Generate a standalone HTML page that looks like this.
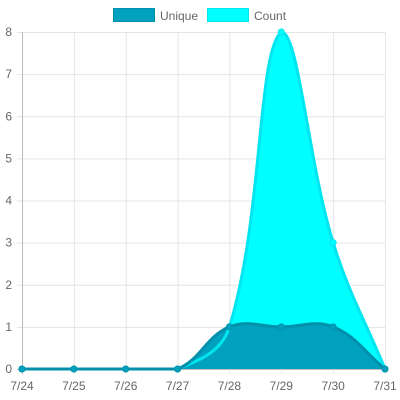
<!DOCTYPE html>
<html><head><meta charset="utf-8"><style>
body{margin:0;background:#fff;}
svg{display:block;font-family:"Liberation Sans",sans-serif;}
</style></head><body>
<svg id="c" width="400" height="400">
<g>
<rect x="113.5" y="8.5" width="41" height="13" fill="#00a0bf" stroke="#0090ab" stroke-width="1"/>
<text x="160" y="20" font-size="12" fill="#666">Unique</text>
<rect x="207.5" y="8.5" width="41" height="13" fill="#00ffff" stroke="#00e5f0" stroke-width="1"/>
<text x="254" y="20" font-size="12" fill="#666">Count</text>
</g>
<g id="grid"></g><g id="marks"></g><g id="labels"></g>
</svg>
<script>
const categories=["7/24","7/25","7/26","7/27","7/28","7/29","7/30","7/31"];
const countValues=[0,0,0,0,1,8,3,0];
const uniqueValues=[0,0,0,0,1,1,1,0];
const yTicks=[0,1,2,3,4,5,6,7,8];
const NS="http://www.w3.org/2000/svg";
const L=22,R=385,T=32,B=369,yMax=8;
const xs=i=>L+(R-L)*i/(categories.length-1);
const ys=v=>B-(B-T)*v/yMax;
function mk(tag,attrs,parent){const e=document.createElementNS(NS,tag);for(const k in attrs)e.setAttribute(k,attrs[k]);parent.appendChild(e);return e;}
const grid=document.getElementById('grid'),marks=document.getElementById('marks'),labels=document.getElementById('labels');
yTicks.forEach(t=>{
  const l=mk('line',{x1:L-5,x2:R,y1:ys(t)+0.5,y2:ys(t)+0.5,stroke:t===0?'#bbb':'#e5e5e5'},grid);
  
  
  const tx=mk('text',{x:12,y:ys(t)+4,'font-size':12,fill:'#666','text-anchor':'end'},labels);
  tx.textContent=t;
  
  
});
categories.forEach((c,i)=>{
  const l=mk('line',{x1:xs(i)+0.5,x2:xs(i)+0.5,y1:T,y2:B+5,stroke:i===0?'#bbb':'#e5e5e5'},grid);
  
  
  const tx=mk('text',{x:xs(i),y:390,'font-size':12,fill:'#666','text-anchor':'middle'},labels);
  tx.textContent=c;
  
  
});
function pathFor(vals){
  const p=vals.map((v,i)=>({x:xs(i),y:ys(v)}));const t=0.4;const cps=[];
  p.forEach((c,i)=>{const pr=p[i-1]||c,nx=p[i+1]||c;
    const d01=Math.hypot(c.x-pr.x,c.y-pr.y),d12=Math.hypot(nx.x-c.x,nx.y-c.y);
    let fa=d01/(d01+d12)||0,fb=d12/(d01+d12)||0;fa*=t;fb*=t;
    const cl=y=>Math.max(T,Math.min(B,y));
    cps.push({px:c.x-fa*(nx.x-pr.x),py:cl(c.y-fa*(nx.y-pr.y)),nx:c.x+fb*(nx.x-pr.x),ny:cl(c.y+fb*(nx.y-pr.y))});});
  let d=`M${p[0].x},${p[0].y}`;
  for(let i=1;i<p.length;i++)d+=` C${cps[i-1].nx},${cps[i-1].ny} ${cps[i].px},${cps[i].py} ${p[i].x},${p[i].y}`;
  return {d,p};
}
const C=pathFor(countValues),U=pathFor(uniqueValues);
const cf=mk('path',{d:C.d+` L${xs(7)},${B} L${xs(0)},${B}Z`,fill:'#00ffff'},marks);


const uf=mk('path',{d:U.d+` L${xs(7)},${B} L${xs(0)},${B}Z`,fill:'#00a0bf'},marks);


const cl=mk('path',{d:C.d,fill:'none',stroke:'#00e5f0','stroke-width':3},marks);


const ul=mk('path',{d:U.d,fill:'none',stroke:'#0090ab','stroke-width':3},marks);


C.p.forEach(q=>{const c=mk('circle',{cx:q.x,cy:q.y,r:3,fill:'#00ffff',stroke:'#00e5f0'},marks);
  
  });
U.p.forEach(q=>{const c=mk('circle',{cx:q.x,cy:q.y,r:3,fill:'#00a0bf',stroke:'#0090ab'},marks);
  
  });
</script>
</body></html>
